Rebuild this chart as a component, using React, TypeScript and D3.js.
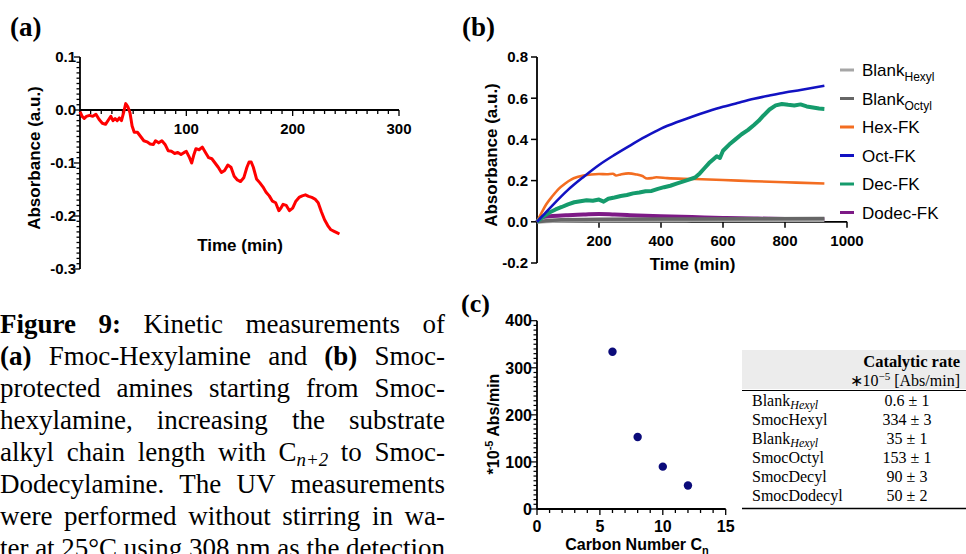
import React from "react";
import * as d3 from "d3";

// ---------- Panel (a): Fmoc-Hexylamine ----------
const fmocHexyl: [number, number][] = [
  [0,-0.003],[2,-0.012],[4,-0.016],[6,-0.012],[9,-0.01],[12,-0.012],[15,-0.008],[18,-0.018],[21,-0.025],[24,-0.027],
  [27,-0.018],[29,-0.012],[31,-0.02],[33,-0.016],[35,-0.02],[37,-0.015],[39,-0.02],[41,-0.005],[43,0.012],[45,0.006],
  [47,-0.005],[49,-0.03],[51,-0.042],[54,-0.042],[57,-0.05],[60,-0.058],[63,-0.06],[66,-0.064],[69,-0.065],[71,-0.058],
  [74,-0.062],[77,-0.058],[80,-0.065],[83,-0.077],[86,-0.078],[89,-0.082],[92,-0.08],[95,-0.084],[98,-0.08],[100,-0.078],
  [103,-0.09],[105,-0.1],[107,-0.085],[109,-0.073],[112,-0.075],[115,-0.07],[118,-0.08],[121,-0.09],[124,-0.092],[127,-0.1],
  [130,-0.108],[133,-0.118],[136,-0.114],[139,-0.104],[142,-0.108],[145,-0.125],[148,-0.132],[151,-0.135],[154,-0.128],[157,-0.108],
  [159,-0.098],[161,-0.098],[163,-0.108],[166,-0.13],[169,-0.137],[172,-0.145],[175,-0.155],[178,-0.162],[181,-0.172],[184,-0.175],
  [187,-0.19],[189,-0.185],[191,-0.178],[194,-0.18],[197,-0.19],[200,-0.185],[203,-0.172],[206,-0.165],[209,-0.162],[212,-0.16],
  [215,-0.163],[218,-0.165],[221,-0.168],[224,-0.175],[227,-0.192],[230,-0.207],[233,-0.218],[236,-0.226],[239,-0.229],[242,-0.232],[244,-0.234],
];
const aYTicks = [-0.3, -0.2, -0.1, 0.0, 0.1];
const aXTicks = [100, 200, 300];

// ---------- Panel (b): Smoc-protected amines ----------
const blankHexyl: [number, number][] = [[0,0],[50,0.003],[200,0.005],[500,0.007],[927,0.008]];
const blankOctyl: [number, number][] = [[0,0],[50,0.008],[200,0.012],[500,0.014],[927,0.016]];
const hexFK: [number, number][] = [
  [0,0],[15,0.045],[30,0.085],[50,0.125],[70,0.16],[90,0.185],[110,0.205],[130,0.217],[150,0.225],[175,0.23],
  [200,0.232],[225,0.231],[245,0.233],[255,0.225],[270,0.23],[295,0.235],[320,0.23],[340,0.222],[355,0.21],[370,0.212],
  [385,0.216],[420,0.212],[500,0.208],[600,0.203],[700,0.197],[800,0.192],[927,0.186],
];
const octFK: [number, number][] = [
  [0,0],[25,0.04],[50,0.08],[100,0.155],[150,0.218],[200,0.276],[250,0.325],[300,0.37],[350,0.413],[400,0.452],
  [450,0.483],[500,0.51],[550,0.535],[600,0.558],[650,0.578],[700,0.597],[750,0.613],[800,0.628],[850,0.64],[927,0.66],
];
const decFK: [number, number][] = [
  [0,0],[20,0.025],[40,0.045],[60,0.06],[80,0.072],[100,0.085],[120,0.095],[140,0.1],[160,0.105],[180,0.102],
  [200,0.108],[215,0.098],[230,0.112],[250,0.118],[270,0.125],[290,0.13],[310,0.138],[330,0.142],[350,0.148],[370,0.15],
  [390,0.16],[410,0.168],[430,0.175],[450,0.185],[470,0.195],[490,0.205],[510,0.215],[525,0.235],[540,0.26],[555,0.285],
  [570,0.305],[580,0.318],[590,0.31],[600,0.345],[620,0.375],[640,0.4],[660,0.425],[680,0.445],[700,0.47],[715,0.49],
  [730,0.515],[750,0.545],[770,0.565],[790,0.572],[810,0.568],[830,0.565],[850,0.57],[870,0.56],[890,0.555],[910,0.55],[927,0.548],
];
const dodecFK: [number, number][] = [
  [0,0],[10,0.018],[25,0.025],[50,0.028],[100,0.032],[150,0.035],[200,0.038],[250,0.035],[300,0.032],[400,0.027],
  [500,0.023],[600,0.019],[700,0.016],[800,0.014],[927,0.012],
];
const bYTicks = [-0.2, 0.0, 0.2, 0.4, 0.6, 0.8];
const bXTicks = [200, 400, 600, 800, 1000];
const legendNames = ["Blank", "Blank", "Hex-FK", "Oct-FK", "Dec-FK", "Dodec-FK"];
const legendSubs = ["Hexyl", "Octyl", "", "", "", ""];
const legendColors = ["#a6a6a6", "#666666", "#f36d21", "#1212c2", "#159b6c", "#7d1a86"];

// ---------- Panel (c): rate vs carbon number ----------
const carbonNumbers = [6, 8, 10, 12];
const rates = [334, 153, 90, 50];
const cYTicks = [0, 100, 200, 300, 400];
const cXTicks = [0, 5, 10, 15];

// ---------- Table ----------
const tableNames = ["Blank", "SmocHexyl", "Blank", "SmocOctyl", "SmocDecyl", "SmocDodecyl"];
const tableSubs = ["Hexyl", "", "Hexyl", "", "", ""];
const tableValues = ["0.6 ± 1", "334 ± 3", "35 ± 1", "153 ± 1", "90 ± 3", "50 ± 2"];

// ---------- Caption ----------
const captionLines = [
  "**Figure** **9:** Kinetic measurements of",
  "**(a)** Fmoc-Hexylamine and **(b)** Smoc-",
  "protected amines starting from Smoc-",
  "hexylamine, increasing the substrate",
  "alkyl chain length with C_{n+2} to Smoc-",
  "Dodecylamine. The UV measurements",
  "were performed without stirring in wa-",
  "ter at 25°C using 308 nm as the detection",
];

const SANS = "'Liberation Sans', Arial, sans-serif";
const SERIF = "'Liberation Serif', 'Times New Roman', serif";

let _ctx: CanvasRenderingContext2D | null = null;
function measure(text: string, font: string) {
  if (!_ctx) _ctx = document.createElement("canvas").getContext("2d");
  _ctx!.font = font;
  return _ctx!.measureText(text).width;
}

type Run = { t: string; b?: boolean; sub?: boolean };
function parseWord(w: string): Run[] {
  if (w.startsWith("**")) return [{ t: w.replace(/\*\*/g, ""), b: true }];
  const m = w.match(/^(.*)_\{(.*)\}(.*)$/);
  if (m) return [{ t: m[1] }, { t: m[2], sub: true }, ...(m[3] ? [{ t: m[3] }] : [])];
  return [{ t: w }];
}

function Caption() {
  const size = 27;
  const width = 445;
  const out: React.ReactNode[] = [];
  captionLines.forEach((line, li) => {
    const words = line.split(" ").map(parseWord);
    const runFont = (r: Run) =>
      r.sub ? `italic ${size * 0.7}px ${SERIF}` : `${r.b ? "bold " : ""}${size}px ${SERIF}`;
    const wordW = words.map((rs) => rs.reduce((s, r) => s + measure(r.t, runFont(r)), 0));
    const total = wordW.reduce((a, b) => a + b, 0);
    const gap = (width - total) / (words.length - 1);
    const y = 333 + li * 32;
    let x = 0;
    words.forEach((rs, wi) => {
      let rx = x;
      rs.forEach((r, ri) => {
        out.push(
          <text key={`${li}-${wi}-${ri}`} x={rx} y={r.sub ? y + 5 : y}
            fontFamily={SERIF} fontSize={r.sub ? size * 0.7 : size}
            fontWeight={r.b ? "bold" : "normal"} fontStyle={r.sub ? "italic" : "normal"} fill="#000">
            {r.t}
          </text>
        );
        rx += measure(r.t, runFont(r));
      });
      x += wordW[wi] + gap;
    });
  });
  return <g>{out}</g>;
}

export default function App() {
  // Panel a scales
  const xA = d3.scaleLinear().domain([0, 300]).range([80, 399]);
  const yA = d3.scaleLinear().domain([-0.3, 0.1]).range([269, 57]);
  const lineA = d3.line<[number, number]>().x((d) => xA(d[0])).y((d) => yA(d[1]));

  // Panel b scales
  const xB = d3.scaleLinear().domain([0, 1000]).range([537, 847]);
  const yB = d3.scaleLinear().domain([-0.2, 0.8]).range([263, 57]);
  const lineB = d3.line<[number, number]>().x((d) => xB(d[0])).y((d) => yB(d[1])).curve(d3.curveMonotoneX);
  const lineBraw = d3.line<[number, number]>().x((d) => xB(d[0])).y((d) => yB(d[1]));

  // Panel c scales
  const xC = d3.scaleLinear().domain([0, 15]).range([537, 725.7]);
  const yC = d3.scaleLinear().domain([0, 400]).range([509, 320.7]);

  const axisStroke = 1.8;
  const tickFont = { fontFamily: SANS, fontWeight: "bold" as const, fontSize: 15 };

  const aYMinor = d3.range(-30, 11).map((v) => v / 100);
  const aXMinor = d3.range(0, 31).map((v) => v * 10);
  const cYMinor = d3.range(0, 41).map((v) => v * 10);
  const cXMinor = d3.range(0, 16);

  const bSeries: [number, number][][] = [blankHexyl, blankOctyl, hexFK, octFK, decFK, dodecFK];
  const bWidths = [3.5, 3.5, 2.6, 2.6, 4, 4];
  const bOrder = [5, 0, 1, 2, 4, 3];

  return (
    <svg width={966} height={554} style={{ position: "absolute", left: 0, top: 0, background: "#fff" }}>
      <rect width={966} height={554} fill="#fff" />

      {/* Panel labels */}
      <text x={10} y={36} fontFamily={SERIF} fontWeight="bold" fontSize={27}>(a)</text>
      <text x={462} y={36} fontFamily={SERIF} fontWeight="bold" fontSize={27}>(b)</text>
      <text x={461} y={312} fontFamily={SERIF} fontWeight="bold" fontSize={26}>(c)</text>

      {/* ===== Panel a ===== */}
      <g>
        {aYMinor.map((v) => (
          <line key={"aym" + v} x1={xA(0)} x2={xA(0) - (aYTicks.some((t) => Math.abs(t - v) < 1e-9) ? 6 : 3.5)}
            y1={yA(v)} y2={yA(v)} stroke="#000" strokeWidth={1.3} />
        ))}
        {aXMinor.map((v) => (
          <line key={"axm" + v} x1={xA(v)} x2={xA(v)} y1={yA(0)}
            y2={yA(0) + (v % 100 === 0 ? 6 : 4)} stroke="#000" strokeWidth={1.3} />
        ))}
        <line x1={xA(0)} x2={xA(0)} y1={yA(-0.3)} y2={yA(0.1)} stroke="#000" strokeWidth={axisStroke} />
        <line x1={xA(0)} x2={xA(300)} y1={yA(0)} y2={yA(0)} stroke="#000" strokeWidth={axisStroke} />
        {aYTicks.map((v) => (
          <text key={"ayl" + v} x={76} y={yA(v)} dy="0.36em" textAnchor="end" {...tickFont}>{v.toFixed(1)}</text>
        ))}
        {aXTicks.map((v) => (
          <text key={"axl" + v} x={xA(v)} y={134} textAnchor="middle" {...tickFont}>{v}</text>
        ))}
        <path d={lineA(fmocHexyl) || ""} fill="none" stroke="#ff0000" strokeWidth={3} strokeLinejoin="round" />
        <text x={240} y={251} textAnchor="middle" fontFamily={SANS} fontWeight="bold" fontSize={17}>Time (min)</text>
        <text transform="translate(40,158) rotate(-90)" textAnchor="middle" fontFamily={SANS} fontWeight="bold" fontSize={17}>Absorbance (a.u.)</text>
      </g>

      {/* ===== Panel b ===== */}
      <g>
        {bYTicks.map((v) => (
          <line key={"byt" + v} x1={xB(0)} x2={xB(0) - 6} y1={yB(v)} y2={yB(v)} stroke="#000" strokeWidth={1.5} />
        ))}
        {bXTicks.map((v) => (
          <line key={"bxt" + v} x1={xB(v)} x2={xB(v)} y1={yB(0)} y2={yB(0) + 6} stroke="#000" strokeWidth={1.5} />
        ))}
        <line x1={xB(0)} x2={xB(0)} y1={yB(-0.2)} y2={yB(0.8)} stroke="#000" strokeWidth={axisStroke} />
        <line x1={xB(0)} x2={xB(1000)} y1={yB(0)} y2={yB(0)} stroke="#000" strokeWidth={axisStroke} />
        {bYTicks.map((v) => (
          <text key={"byl" + v} x={528} y={yB(v)} dy="0.36em" textAnchor="end" {...tickFont}>{v.toFixed(1)}</text>
        ))}
        {bXTicks.map((v) => (
          <text key={"bxl" + v} x={xB(v)} y={246} textAnchor="middle" {...tickFont}>{v}</text>
        ))}
        {bOrder.map((i) => (
          <path key={"bs" + i} d={(i === 4 ? lineBraw : lineB)(bSeries[i]) || ""} fill="none"
            stroke={legendColors[i]} strokeWidth={bWidths[i]} strokeLinejoin="round" />
        ))}
        <text x={692.5} y={270} textAnchor="middle" fontFamily={SANS} fontWeight="bold" fontSize={17}>Time (min)</text>
        <text transform="translate(497,155) rotate(-90)" textAnchor="middle" fontFamily={SANS} fontWeight="bold" fontSize={17}>Absorbance (a.u.)</text>
        {legendNames.map((n, i) => {
          const y = 70 + i * 28.5;
          return (
            <g key={"lg" + i}>
              <line x1={840} x2={854} y1={y} y2={y} stroke={legendColors[i]} strokeWidth={3} />
              <text x={862} y={y} dy="0.36em" fontFamily={SANS} fontSize={17} fill="#000">
                {n}
                {legendSubs[i] && <tspan fontSize={12} dy={5}>{legendSubs[i]}</tspan>}
              </text>
            </g>
          );
        })}
      </g>

      {/* ===== Panel c ===== */}
      <g>
        {cYMinor.map((v) => (
          <line key={"cym" + v} x1={xC(0)} x2={xC(0) - (v % 100 === 0 ? 6 : 3.5)} y1={yC(v)} y2={yC(v)}
            stroke="#000" strokeWidth={1.2} />
        ))}
        {cXMinor.map((v) => (
          <line key={"cxm" + v} x1={xC(v)} x2={xC(v)} y1={yC(0)} y2={yC(0) + (v % 5 === 0 ? 6 : 4)}
            stroke="#000" strokeWidth={1.3} />
        ))}
        <line x1={xC(0)} x2={xC(0)} y1={yC(0)} y2={yC(400)} stroke="#000" strokeWidth={axisStroke} />
        <line x1={xC(0)} x2={xC(15)} y1={yC(0)} y2={yC(0)} stroke="#000" strokeWidth={axisStroke} />
        {cYTicks.map((v) => (
          <text key={"cyl" + v} x={532} y={yC(v)} dy="0.36em" textAnchor="end" {...tickFont} fontSize={16}>{v}</text>
        ))}
        {cXTicks.map((v) => (
          <text key={"cxl" + v} x={xC(v)} y={532} textAnchor="middle" {...tickFont} fontSize={16}>{v}</text>
        ))}
        {carbonNumbers.map((c, i) => (
          <circle key={"pt" + c} cx={xC(c)} cy={yC(rates[i])} r={4.2} fill="#0b0b7a" />
        ))}
        <text x={637} y={550} textAnchor="middle" fontFamily={SANS} fontWeight="bold" fontSize={16}>
          Carbon Number C<tspan fontSize={11} dy={4}>n</tspan>
        </text>
        <text transform="translate(499,424) rotate(-90)" textAnchor="middle" fontFamily={SANS} fontWeight="bold" fontSize={16}>
          *10<tspan fontSize={11} dy={-6}>-5</tspan><tspan dy={6}> Abs/min</tspan>
        </text>
      </g>

      {/* ===== Table ===== */}
      <g fontFamily={SERIF}>
        <rect x={742} y={350} width={224} height={39} fill="#ececec" />
        <text x={960} y={367} textAnchor="end" fontWeight="bold" fontSize={16.5}>Catalytic rate</text>
        <text x={960} y={386} textAnchor="end" fontSize={16}>
          ∗10<tspan fontSize={11} dy={-6}>−5</tspan><tspan dy={6}> [Abs/min]</tspan>
        </text>
        <line x1={742} x2={966} y1={390.5} y2={390.5} stroke="#000" strokeWidth={1} />
        {tableNames.map((n, i) => {
          const y = 406 + i * 19.05;
          return (
            <g key={"tr" + i}>
              <text x={752} y={y} fontSize={16}>
                {n}
                {tableSubs[i] && <tspan fontSize={12} fontStyle="italic" dy={3}>{tableSubs[i]}</tspan>}
              </text>
              <text x={907} y={y} textAnchor="middle" fontSize={16}>{tableValues[i]}</text>
            </g>
          );
        })}
        <line x1={742} x2={966} y1={508.5} y2={508.5} stroke="#000" strokeWidth={1.5} />
      </g>

      <Caption />
    </svg>
  );
}
